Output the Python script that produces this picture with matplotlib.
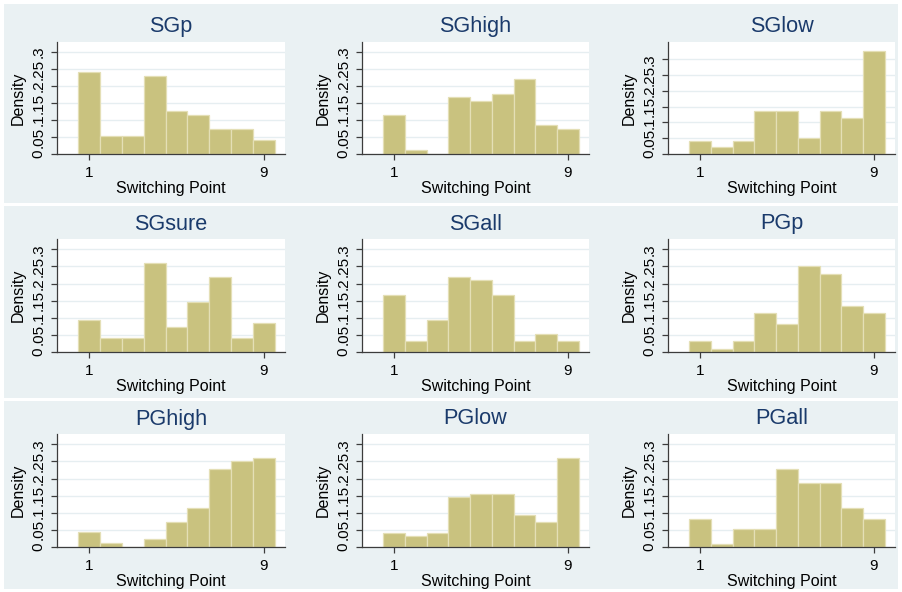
import matplotlib
matplotlib.use("Agg")
import matplotlib.pyplot as plt
from matplotlib.patches import Rectangle

plt.rcParams['font.family'] = ['Liberation Sans', 'DejaVu Sans']

# ---- data (density per switching point 1..9) ----
switch_points = [1, 2, 3, 4, 5, 6, 7, 8, 9]
titles = ["SGp", "SGhigh", "SGlow", "SGsure", "SGall", "PGp", "PGhigh", "PGlow", "PGall"]
SGp    = [0.243, 0.052, 0.052, 0.231, 0.126, 0.116, 0.075, 0.075, 0.042]
SGhigh = [0.115, 0.011, 0.0,   0.168, 0.157, 0.177, 0.220, 0.084, 0.074]
SGlow  = [0.042, 0.021, 0.042, 0.136, 0.136, 0.052, 0.136, 0.115, 0.325]
SGsure = [0.094, 0.042, 0.042, 0.261, 0.073, 0.146, 0.219, 0.042, 0.084]
SGall  = [0.166, 0.031, 0.094, 0.219, 0.209, 0.166, 0.031, 0.052, 0.031]
PGp    = [0.031, 0.010, 0.031, 0.114, 0.083, 0.250, 0.229, 0.135, 0.114]
PGhigh = [0.043, 0.012, 0.0,   0.022, 0.074, 0.115, 0.229, 0.250, 0.260]
PGlow  = [0.042, 0.032, 0.042, 0.147, 0.156, 0.156, 0.094, 0.074, 0.259]
PGall  = [0.083, 0.010, 0.052, 0.052, 0.229, 0.187, 0.187, 0.114, 0.083]
series = [SGp, SGhigh, SGlow, SGsure, SGall, PGp, PGhigh, PGlow, PGall]
y_ticks = [0, 0.05, 0.1, 0.15, 0.2, 0.25, 0.3]
y_tick_labels = ["0", ".05", ".1", ".15", ".2", ".25", ".3"]
x_ticks = [1, 9]
x_tick_labels = ["1", "9"]
y_tops = [0.33, 0.33, 0.355, 0.33, 0.33, 0.33, 0.33, 0.33, 0.33]

# ---- style ----
W, H = 902, 592
BG = '#EAF1F3'
BAR = '#C9C27F'
BAR_EDGE = '#E4DFB6'
GRID = '#E6EEF1'
AXC = '#3C3C3C'
TITLE_C = '#1A3A6B'

fig = plt.figure(figsize=(W / 100, H / 100), dpi=100)
fig.patch.set_facecolor('white')

col_left = [57, 362, 668]
col_right = [285, 589, 895]
row_top = [42, 239, 434]
row_bot = [154, 352, 547]
band_x = [(4, 300), (300, 600), (600, 898)]
band_y = [(4, 203), (206, 398), (401, 589)]

px2pt = 72 / 100

# background canvas axes for the panel regions
bg_ax = fig.add_axes([0, 0, 1, 1], zorder=-10)
bg_ax.set_xlim(0, W)
bg_ax.set_ylim(H, 0)
bg_ax.axis('off')
for r in range(3):
    for c in range(3):
        bx0, bx1 = band_x[c]
        by0, by1 = band_y[r]
        bg_ax.add_patch(Rectangle((bx0, by0), bx1 - bx0, by1 - by0,
                                  facecolor=BG, edgecolor='none'))

for i, (title, vals) in enumerate(zip(titles, series)):
    r, c = divmod(i, 3)
    l, rr = col_left[c], col_right[c]
    t, b = row_top[r], row_bot[r]
    ax = fig.add_axes([l / W, 1 - b / H, (rr - l) / W, (b - t) / H])
    ax.set_facecolor('white')
    ax.bar(switch_points, vals, width=1.0, color=BAR, edgecolor=BAR_EDGE, linewidth=0.9, zorder=3)
    ax.set_xlim(-0.48, 9.97)
    ax.set_ylim(0, y_tops[i])
    ax.set_yticks(y_ticks)
    ax.set_yticklabels(y_tick_labels, rotation=90, va='center', ha='right')
    ax.set_xticks(x_ticks)
    ax.set_xticklabels(x_tick_labels)
    ax.tick_params(axis='y', length=4, width=0.9, color=AXC, pad=4.2, labelsize=11, labelcolor='black')
    ax.tick_params(axis='x', length=4, width=0.9, color=AXC, pad=4.4, labelsize=11, labelcolor='black')
    for s in ['top', 'right']:
        ax.spines[s].set_visible(False)
    for s in ['left', 'bottom']:
        ax.spines[s].set_color(AXC)
        ax.spines[s].set_linewidth(0.9)
        ax.spines[s].set_zorder(4)
    ax.yaxis.grid(True, color=GRID, linewidth=1.0, zorder=0)
    ax.set_axisbelow(True)

    ax.annotate(title, xy=(0.5, 1.0), xycoords='axes fraction', xytext=(0, 9.5 * px2pt),
                textcoords='offset points', ha='center', va='baseline',
                fontsize=15.6, color=TITLE_C)
    ax.annotate("Switching Point", xy=(0.5, 0.0), xycoords='axes fraction',
                xytext=(0, -38.8 * px2pt), textcoords='offset points',
                ha='center', va='baseline', fontsize=11.5, color='black')
    ax.annotate("Density", xy=(0.0, 0.5), xycoords='axes fraction',
                xytext=(-38.8 * px2pt, 0), textcoords='offset points',
                ha='center', va='center', rotation=90, fontsize=11.5, color='black')

fig.savefig("out.png", dpi=100, facecolor=fig.get_facecolor())
